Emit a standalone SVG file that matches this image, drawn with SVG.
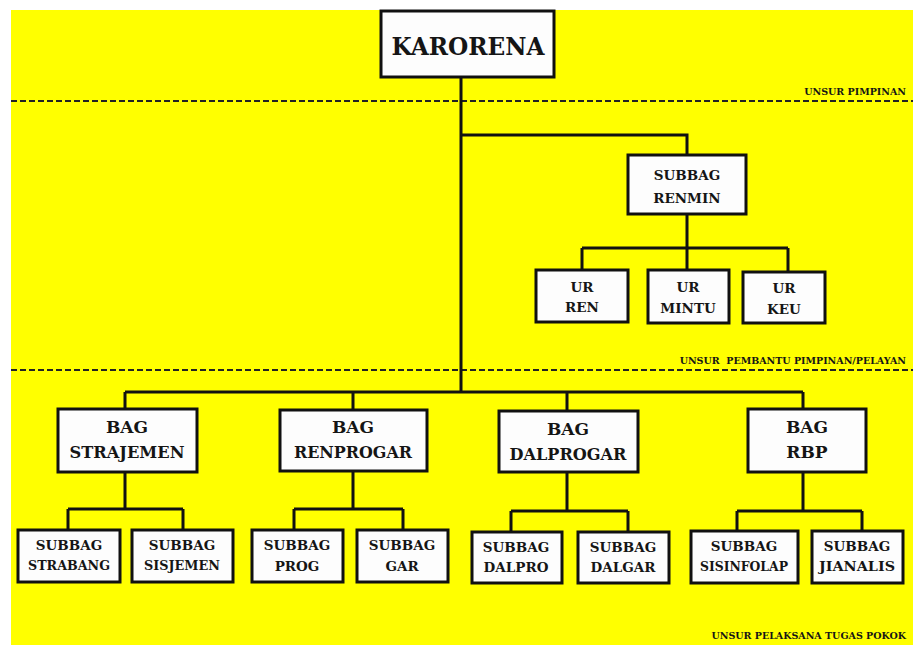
<svg xmlns="http://www.w3.org/2000/svg" width="913" height="645" viewBox="0 0 913 645">
  <style>
    .bg { fill: #ffff00; }
    .box { fill: #fdfdfd; stroke: #111; stroke-width: 3; }
    .t { font-family: "DejaVu Serif", serif; font-weight: bold; fill: #151515; text-anchor: middle; }
    .big { font-size: 25px; }
    .mid { font-size: 17px; }
    .sm { font-size: 13.5px; }
    .lbl { font-family: "DejaVu Serif", serif; font-weight: bold; font-size: 9.5px; fill: #151515; text-anchor: end; }
    .ln { fill: none; stroke: #111; stroke-width: 3; }
    .dash { fill: none; stroke: #222; stroke-width: 2; stroke-dasharray: 6 3; }
  </style>

  <rect class="bg" x="11" y="10" width="902" height="635"/>

  <!-- level dividers -->
  <g id="dividers">
    <line class="dash" x1="11" y1="101" x2="913" y2="101"/>
    <text class="lbl" x="906" y="95">UNSUR PIMPINAN</text>
    <line class="dash" x1="11" y1="370" x2="913" y2="370"/>
    <text class="lbl" x="906" y="364" xml:space="preserve">UNSUR  PEMBANTU PIMPINAN/PELAYAN</text>
    <text class="lbl" x="906" y="639">UNSUR PELAKSANA TUGAS POKOK</text>
  </g>

  <!-- connectors -->
  <g id="connectors">
    <path class="ln" d="M461 77 V392"/>
    <path class="ln" d="M461 135 H687 V155"/>
    <path class="ln" d="M687 214 V248 M582 248 H788 M582 248 V270 M687 248 V270 M788 248 V272"/>
    <path class="ln" d="M125 392 H803 M125 392 V409 M353 392 V410 M567 392 V411 M803 392 V409"/>
    <path class="ln" d="M125 472 V509 M68 509 H183 M68 509 V530 M183 509 V530"/>
    <path class="ln" d="M353 471 V509 M294 509 H403 M294 509 V530 M403 509 V530"/>
    <path class="ln" d="M567 472 V511 M511 511 H628 M511 511 V532 M628 511 V532"/>
    <path class="ln" d="M803 472 V511 M737 511 H862 M737 511 V531 M862 511 V531"/>
  </g>

  <g id="karorena">
    <rect class="box" x="381" y="11" width="173" height="66"/>
    <text class="t big" x="468" y="55" textLength="153" lengthAdjust="spacingAndGlyphs">KARORENA</text>
  </g>

  <g id="subbag-renmin">
    <rect class="box" x="628" y="155" width="118" height="59"/>
    <text class="t sm" x="687" y="180">SUBBAG</text>
    <text class="t sm" x="687" y="203">RENMIN</text>
  </g>

  <g id="ur-ren">
    <rect class="box" x="536" y="270" width="92" height="52"/>
    <text class="t sm" x="582" y="292">UR</text>
    <text class="t sm" x="582" y="312">REN</text>
  </g>
  <g id="ur-mintu">
    <rect class="box" x="648" y="270" width="81" height="53"/>
    <text class="t sm" x="688" y="292">UR</text>
    <text class="t sm" x="688" y="313">MINTU</text>
  </g>
  <g id="ur-keu">
    <rect class="box" x="743" y="272" width="82" height="51"/>
    <text class="t sm" x="784" y="293">UR</text>
    <text class="t sm" x="784" y="314">KEU</text>
  </g>

  <g id="bag-strajemen">
    <rect class="box" x="58" y="409" width="139" height="63"/>
    <text class="t mid" x="127" y="433">BAG</text>
    <text class="t mid" x="127" y="458" textLength="115" lengthAdjust="spacingAndGlyphs">STRAJEMEN</text>
  </g>
  <g id="bag-renprogar">
    <rect class="box" x="280" y="410" width="147" height="61"/>
    <text class="t mid" x="353" y="433">BAG</text>
    <text class="t mid" x="353" y="458" textLength="118" lengthAdjust="spacingAndGlyphs">RENPROGAR</text>
  </g>
  <g id="bag-dalprogar">
    <rect class="box" x="499" y="411" width="139" height="61"/>
    <text class="t mid" x="568" y="435">BAG</text>
    <text class="t mid" x="568" y="460" textLength="117" lengthAdjust="spacingAndGlyphs">DALPROGAR</text>
  </g>
  <g id="bag-rbp">
    <rect class="box" x="748" y="409" width="118" height="63"/>
    <text class="t mid" x="807" y="433">BAG</text>
    <text class="t mid" x="807" y="458">RBP</text>
  </g>

  <g id="subbag-strabang">
    <rect class="box" x="18" y="530" width="102" height="52"/>
    <text class="t sm" x="69" y="550">SUBBAG</text>
    <text class="t sm" x="69" y="570" textLength="82" lengthAdjust="spacingAndGlyphs">STRABANG</text>
  </g>
  <g id="subbag-sisjemen">
    <rect class="box" x="132" y="530" width="101" height="52"/>
    <text class="t sm" x="182" y="550">SUBBAG</text>
    <text class="t sm" x="182" y="570" textLength="76" lengthAdjust="spacingAndGlyphs">SISJEMEN</text>
  </g>
  <g id="subbag-prog">
    <rect class="box" x="252" y="530" width="91" height="52"/>
    <text class="t sm" x="297" y="550">SUBBAG</text>
    <text class="t sm" x="297" y="571">PROG</text>
  </g>
  <g id="subbag-gar">
    <rect class="box" x="357" y="530" width="91" height="52"/>
    <text class="t sm" x="402" y="550">SUBBAG</text>
    <text class="t sm" x="402" y="571">GAR</text>
  </g>
  <g id="subbag-dalpro">
    <rect class="box" x="472" y="532" width="90" height="51"/>
    <text class="t sm" x="516" y="552">SUBBAG</text>
    <text class="t sm" x="516" y="572">DALPRO</text>
  </g>
  <g id="subbag-dalgar">
    <rect class="box" x="578" y="532" width="91" height="51"/>
    <text class="t sm" x="623" y="552">SUBBAG</text>
    <text class="t sm" x="623" y="572">DALGAR</text>
  </g>
  <g id="subbag-sisinfolap">
    <rect class="box" x="691" y="531" width="107" height="52"/>
    <text class="t sm" x="744" y="551">SUBBAG</text>
    <text class="t sm" x="744" y="571" textLength="88" lengthAdjust="spacingAndGlyphs">SISINFOLAP</text>
  </g>
  <g id="subbag-jianalis">
    <rect class="box" x="812" y="531" width="91" height="52"/>
    <text class="t sm" x="857" y="551">SUBBAG</text>
    <text class="t sm" x="857" y="571" textLength="76" lengthAdjust="spacingAndGlyphs">JIANALIS</text>
  </g>
</svg>
